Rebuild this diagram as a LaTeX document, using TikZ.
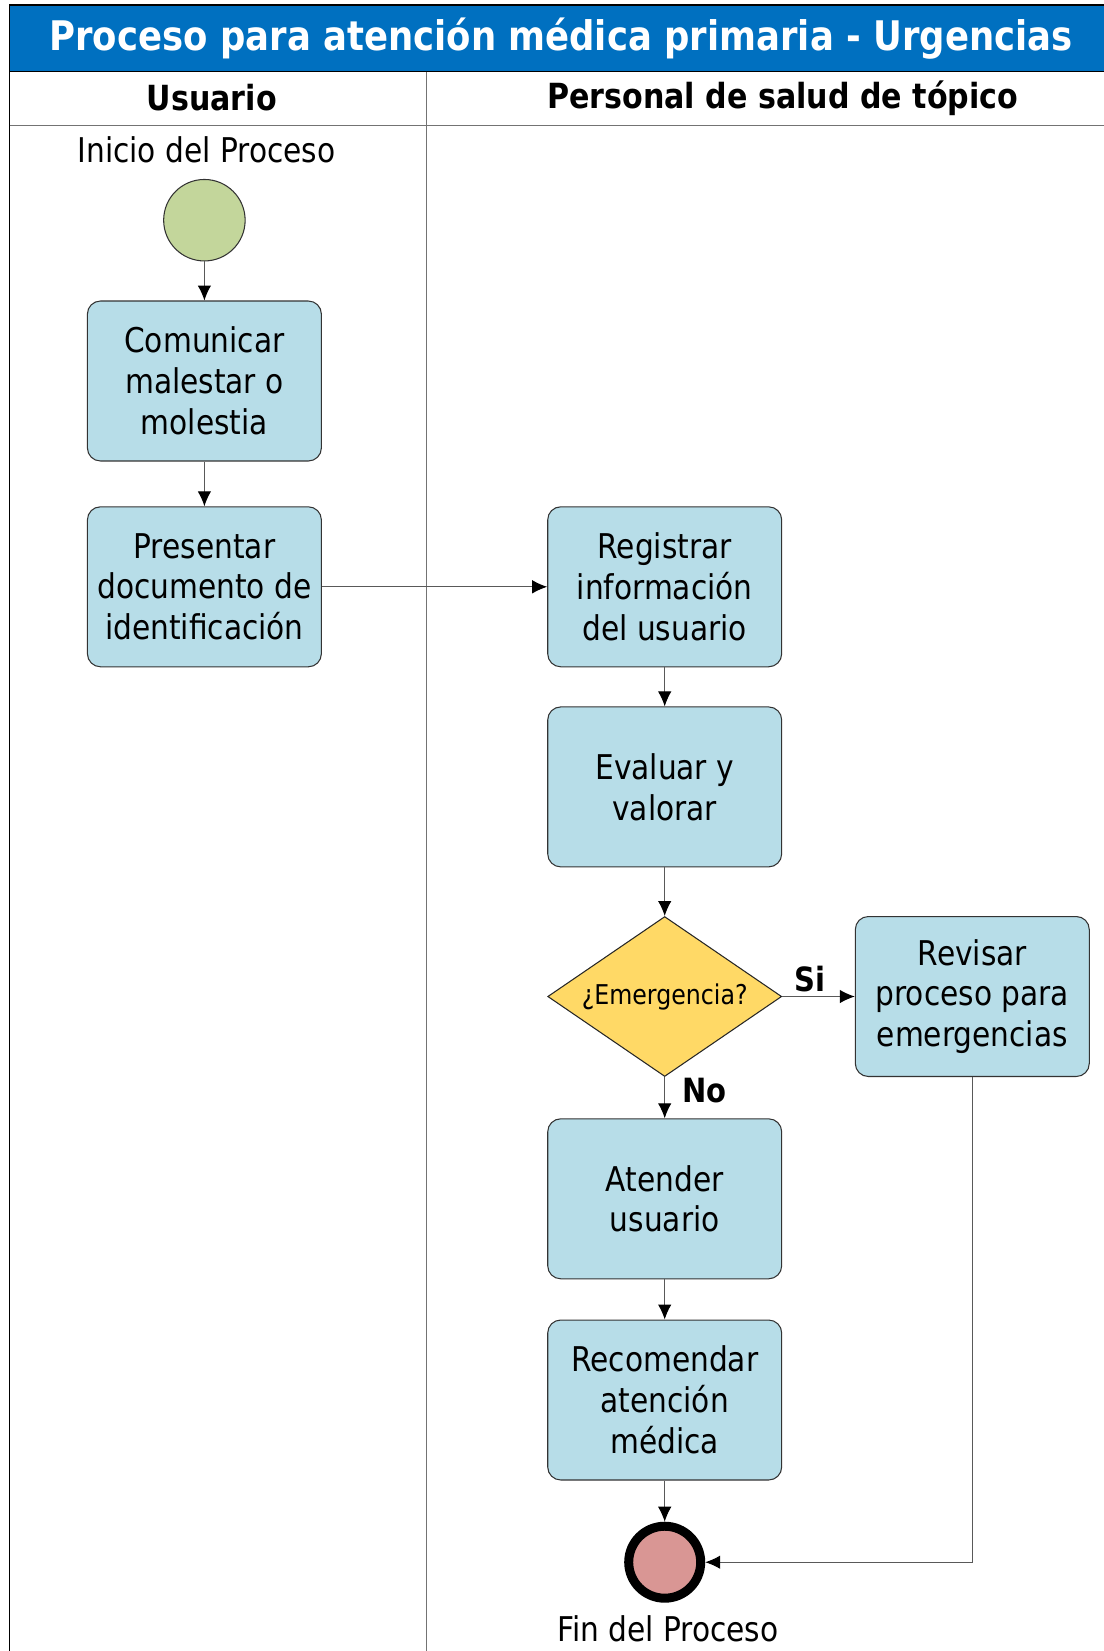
\documentclass[tikz,border=0pt]{standalone}
\usepackage{fontspec}
\setmainfont{DejaVu Sans}[FakeStretch=0.87]
\usetikzlibrary{arrows.meta,shapes.geometric}

\definecolor{azultitulo}{RGB}{0,112,192}
\definecolor{celeste}{RGB}{183,221,232}
\definecolor{verdeinicio}{RGB}{195,214,155}
\definecolor{rojofin}{RGB}{217,150,148}
\definecolor{amarillo}{RGB}{255,217,102}

\tikzset{
    tarea/.style={draw=black!80, line width=0.6pt, fill=celeste, rounded corners=0.26cm,
        minimum width=4.68cm, minimum height=3.2cm, align=center,
        font=\fontsize{19.4}{23.2}\selectfont},
    decision/.style={diamond, draw=black!85, line width=0.6pt, fill=amarillo, inner sep=0pt,
        shape aspect=1.4625, minimum width=4.68cm, minimum height=3.2cm,
        font=\fontsize{15.5}{18}\selectfont},
    inicio/.style={circle, draw=black!80, line width=0.6pt, fill=verdeinicio, minimum size=1.63cm, inner sep=0pt},
    fin/.style={circle, draw=black, line width=0.18cm, fill=rojofin, minimum size=1.44cm, inner sep=0pt},
    flujo/.style={draw=black!65, line width=0.6pt, -{Latex[length=0.3cm, width=0.27cm, color=black]}},
    rama/.style={font=\fontsize{19}{22}\selectfont\bfseries},
    texto/.style={font=\fontsize{19.4}{23.2}\selectfont},
    carril/.style={font=\fontsize{19.7}{23}\selectfont\bfseries}
}

\begin{document}
\begin{tikzpicture}[x=0.02cm, y=-0.02cm]
    \useasboundingbox (0,0) rectangle (1104,1651);

    \fill[azultitulo] (9.5,5.3) rectangle (1110,71.6);
    \draw[line width=1pt] (1110,5.3) -- (9.5,5.3) -- (9.5,1660);
    \draw[line width=1pt] (9.5,71.6) -- (1110,71.6);
    \draw[black!55, line width=0.8pt] (9.5,125.4) -- (1110,125.4);
    \draw[black!55, line width=0.8pt] (426.6,71.6) -- (426.6,1660);

    \node (titulo) at (561,39) [text=white, font=\fontsize{23.2}{26}\selectfont\bfseries] {Proceso para atención médica primaria - Urgencias};
    \node (usuario) at (211.7,98) [carril] {Usuario};
    \node (personal) at (782.7,98) [carril] {Personal de salud de tópico};

    \node (inicio) at (204.4,220.2) [inicio] {};
    \node (txtinicio) at (206.5,150) [texto] {Inicio del Proceso};

    \node (comunicar) at (204.4,381) [tarea] {Comunicar\\malestar o\\molestia};
    \node (presentar) at (204.4,586.8) [tarea] {Presentar\\documento de\\identificación};
    \node (registrar) at (664.7,586.8) [tarea] {Registrar\\información\\del usuario};
    \node (evaluar) at (664.7,786.9) [tarea] {Evaluar y\\valorar};
    \node (emergencia) at (664.7,996.5) [decision] {¿Emergencia?};
    \node (revisar) at (972.3,996.5) [tarea] {Revisar\\proceso para\\emergencias};
    \node (atender) at (664.7,1198.8) [tarea] {Atender\\usuario};
    \node (recomendar) at (664.7,1400) [tarea] {Recomendar\\atención\\médica};

    \node (fin) at (664.7,1562.2) [fin] {};
    \node (txtfin) at (667.9,1629) [texto] {Fin del Proceso};

    \draw[flujo] (inicio) -- (comunicar);
    \draw[flujo] (comunicar) -- (presentar);
    \draw[flujo] (presentar) -- (registrar);
    \draw[flujo] (registrar) -- (evaluar);
    \draw[flujo] (evaluar) -- (emergencia);
    \draw[flujo] (emergencia) -- (revisar);
    \draw[flujo] (emergencia) -- (atender);
    \draw[flujo] (atender) -- (recomendar);
    \draw[flujo] (recomendar) -- (fin);
    \draw[flujo] (revisar.south) |- (fin.east);

    \node (si) at (810,978.6) [rama] {Si};
    \node (no) at (704.7,1090.3) [rama] {No};
\end{tikzpicture}
\end{document}
